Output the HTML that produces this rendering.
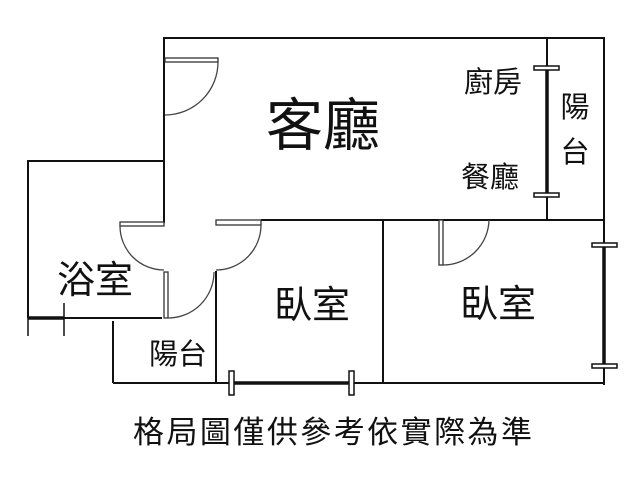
<!DOCTYPE html>
<html><head><meta charset="utf-8"><style>
html,body{margin:0;padding:0;background:#fff;width:640px;height:480px;overflow:hidden}
text{font-family:"Liberation Sans","Noto Sans CJK TC",sans-serif;fill:#111;font-weight:400}
</style></head><body>
<svg width="640" height="480" viewBox="0 0 640 480" xmlns="http://www.w3.org/2000/svg">
<g stroke="#111" stroke-width="2" fill="none">
<path d="M164 223 V38 H604 V385"/>
<path d="M28 318 V161 H164"/>
<path d="M261 220 H604"/>
<path d="M547 38 V219"/>
<path d="M383 220 V383"/>
<path d="M113 383 H604"/>
<path d="M64 318 H162"/>
<path d="M113 321 V383"/>
<path d="M216 271 V383"/>
</g>
<g stroke="#333" stroke-width="1.3" fill="#fff">
<rect x="165" y="58" width="53" height="4"/>
<rect x="120" y="222" width="44" height="4"/>
<rect x="164" y="272" width="4" height="46"/>
<rect x="216" y="220" width="45" height="5"/>
<rect x="439" y="220" width="4" height="45"/>
</g>
<g stroke="#444" stroke-width="1.3" fill="none">
<path d="M218 62 A53 53 0 0 1 165 115"/>
<path d="M120 226 A44 44 0 0 0 164 270"/>
<path d="M168 318 A46 46 0 0 0 214 272"/>
<path d="M261 225 A45 45 0 0 1 216 270"/>
<path d="M443 265 A46 46 0 0 0 489 220"/>
</g>
<g stroke="#111" stroke-width="3.5">
<line x1="547" y1="68" x2="547" y2="195"/>
<line x1="604" y1="245" x2="604" y2="366"/>
<line x1="231" y1="383" x2="352" y2="383"/>
<line x1="28" y1="318" x2="64" y2="318"/>
</g>
<g stroke="#111" stroke-width="1.5" fill="#fff">
<rect x="534" y="66" width="25" height="4"/>
<rect x="534" y="193" width="25" height="4"/>
<rect x="592" y="243" width="25" height="4"/>
<rect x="592" y="364" width="25" height="4"/>
<rect x="229" y="371" width="5" height="24"/>
<rect x="349" y="371" width="5" height="24"/>
</g>
<g stroke="#111" stroke-width="1.5">
<line x1="28" y1="303" x2="28" y2="336"/>
<line x1="64" y1="303" x2="64" y2="336"/>
</g>
<text x="323" y="145" font-size="57" text-anchor="middle">客廳</text>
<text x="493" y="92" font-size="29" text-anchor="middle">廚房</text>
<text x="490" y="187" font-size="29" text-anchor="middle">餐廳</text>
<text x="575" y="117" font-size="29" text-anchor="middle">陽</text>
<text x="575" y="162" font-size="29" text-anchor="middle">台</text>
<text x="95" y="293" font-size="38" text-anchor="middle">浴室</text>
<text x="178" y="364" font-size="29" text-anchor="middle">陽台</text>
<text x="312" y="318" font-size="38" text-anchor="middle">臥室</text>
<text x="498" y="317" font-size="38" text-anchor="middle">臥室</text>
<text x="133" y="443" font-size="31" textLength="399" lengthAdjust="spacing">格局圖僅供參考依實際為準</text>
</svg>
</body></html>
